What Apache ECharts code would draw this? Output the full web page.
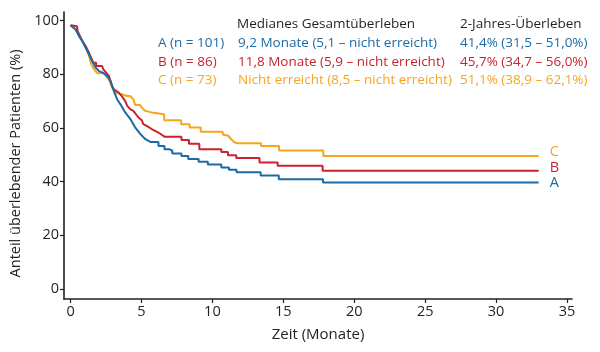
<!DOCTYPE html>
<html>
<head>
<meta charset="utf-8">
<script src="https://cdn.jsdelivr.net/npm/echarts@6/dist/echarts.min.js"></script>
<style>
  html, body { margin: 0; padding: 0; background: #fff; }
  #chart { width: 600px; height: 352px; }
</style>
</head>
<body>
<div id="chart"></div>
<script>
// Gruppen und Legendentexte
const groupNames = ['A', 'B', 'C'];
const groupN = [101, 86, 73];
const medianOS = [
  '9,2 Monate (5,1 – nicht erreicht)',
  '11,8 Monate (5,9 – nicht erreicht)',
  'Nicht erreicht (8,5 – nicht erreicht)'
];
const twoYearOS = [
  '41,4% (31,5 – 51,0%)',
  '45,7% (34,7 – 56,0%)',
  '51,1% (38,9 – 62,1%)'
];
const xTicks = [0, 5, 10, 15, 20, 25, 30, 35];
const yTicks = [0, 20, 40, 60, 80, 100];

// Kaplan-Meier-Kurven (Monate, % überlebend)
const aTime = [0, 0.36, 0.6, 0.83, 1.07, 1.3, 1.53, 1.77, 2.0, 2.35, 2.58, 2.82, 3.05, 3.28, 3.52, 3.87, 4.22, 4.57, 4.93, 5.28, 5.63, 6.2, 6.2, 6.62, 6.62, 6.95, 6.95, 7.17, 7.17, 7.82, 7.82, 8.3, 8.3, 9.03, 9.03, 9.68, 9.68, 10.63, 10.63, 11.17, 11.17, 11.7, 11.7, 13.4, 13.4, 14.68, 14.68, 17.8, 17.8, 33.0];
const aSurv = [98.3, 96.7, 94.2, 92.4, 89.9, 87.4, 84.9, 82.5, 81.2, 80.4, 79.4, 77.5, 73.8, 70.7, 68.8, 65.7, 63.3, 60.1, 57.7, 55.8, 54.8, 54.8, 53.3, 53.3, 52.1, 52.1, 51.6, 51.6, 50.5, 50.5, 49.6, 49.6, 48.4, 48.4, 47.4, 47.4, 46.4, 46.4, 45.3, 45.3, 44.4, 44.4, 43.5, 43.5, 42.3, 42.3, 40.9, 40.9, 39.7, 39.7];

const bTime = [0, 0.45, 0.5, 0.83, 1.07, 1.3, 1.6, 1.81, 1.81, 2.23, 2.3, 2.7, 2.93, 3.05, 3.4, 3.64, 3.87, 4.0, 4.2, 4.43, 4.79, 5.02, 5.13, 5.37, 5.49, 5.72, 5.84, 6.19, 6.3, 6.65, 7.82, 7.82, 8.35, 8.35, 9.08, 9.08, 10.63, 10.63, 11.1, 11.1, 11.68, 11.68, 13.32, 13.32, 14.6, 14.6, 17.77, 17.77, 33.0];
const bSurv = [98.3, 97.9, 96.1, 92.4, 90.5, 88.0, 84.3, 84.3, 83.1, 83.1, 81.9, 79.4, 75.7, 74.4, 73.2, 71.7, 69.8, 68.2, 67.0, 66.4, 63.9, 62.9, 61.4, 60.8, 60.1, 59.6, 58.9, 58.3, 57.7, 56.7, 56.7, 55.5, 55.5, 54.1, 54.1, 52.1, 52.1, 51.0, 51.0, 49.8, 49.8, 48.8, 48.8, 47.1, 47.1, 45.9, 45.9, 44.1, 44.1];

const cTime = [0, 0.36, 0.6, 0.83, 1.07, 1.3, 1.42, 1.65, 1.88, 2.23, 2.4, 2.7, 2.93, 3.05, 3.26, 3.73, 3.96, 4.2, 4.43, 4.55, 4.9, 5.02, 5.25, 5.72, 5.84, 6.6, 6.6, 7.8, 7.8, 8.4, 8.4, 9.18, 9.18, 10.72, 10.75, 11.1, 11.33, 11.57, 11.8, 13.43, 13.43, 14.7, 14.7, 17.82, 17.82, 33.0];
const cSurv = [98.3, 96.7, 94.2, 92.4, 89.9, 87.0, 84.3, 81.9, 80.4, 80.4, 80.0, 78.1, 75.0, 74.2, 73.0, 72.4, 71.9, 71.9, 70.7, 68.6, 68.6, 67.6, 66.4, 65.8, 65.1, 65.1, 62.9, 62.9, 61.4, 61.4, 60.2, 60.2, 58.6, 58.6, 57.5, 57.2, 55.8, 54.6, 54.3, 54.3, 53.3, 53.3, 51.6, 51.6, 49.6, 49.6];

const zip = (t, s) => t.map((v, i) => [v, s[i]]);
const curves = [zip(aTime, aSurv), zip(bTime, bSurv), zip(cTime, cSurv)];

const colors = ['#1b6aa6', '#c8232f', '#f6a51f'];
const ink = '#231f20';
const font = '"Open Sans", sans-serif';

const chart = echarts.init(document.getElementById('chart'));

// Legendentabelle oben rechts
const graphic = [
  { type: 'text', x: 237, y: 24, style: { text: 'Medianes Gesamtüberleben', fill: ink, font: '13.5px ' + font, textVerticalAlign: 'middle' } },
  { type: 'text', x: 460, y: 24, style: { text: '2-Jahres-Überleben', fill: ink, font: '13.5px ' + font, textVerticalAlign: 'middle' } }
];
groupNames.forEach((g, i) => {
  const y = 43.5 + i * 18.3;
  graphic.push(
    { type: 'text', x: 158, y: y, style: { text: g + ' (n = ' + groupN[i] + ')', fill: colors[i], font: '13.5px ' + font, textVerticalAlign: 'middle' } },
    { type: 'text', x: 238, y: y, style: { text: medianOS[i], fill: colors[i], font: '13.5px ' + font, textVerticalAlign: 'middle' } },
    { type: 'text', x: 460, y: y, style: { text: twoYearOS[i], fill: colors[i], font: '13.5px ' + font, textVerticalAlign: 'middle' } }
  );
});

const endOffsets = [[0, 0], [0, -3], [0, -4]];
// C zuerst, A zuletzt (oben)
const series = [2, 1, 0].map(i => ({
  name: groupNames[i],
  type: 'line',
  data: curves[i],
  symbol: 'none',
  silent: true,
  lineStyle: { color: colors[i], width: 2 },
  endLabel: {
    show: true,
    formatter: groupNames[i],
    color: colors[i],
    fontSize: 14.5,
    fontFamily: font,
    distance: 11,
    offset: endOffsets[i]
  }
}));

chart.setOption({
  animation: false,
  backgroundColor: '#fff',
  grid: { left: 62, right: 28, top: 12, bottom: 53, containLabel: false },
  xAxis: {
    type: 'value',
    min: -0.46,
    max: 35.35,
    name: 'Zeit (Monate)',
    nameLocation: 'middle',
    nameGap: 28,
    nameTextStyle: { color: ink, fontSize: 15, fontFamily: font },
    axisLine: { show: true, onZero: false, lineStyle: { color: ink, width: 1.6 } },
    axisTick: { show: true, length: 4, customValues: xTicks, lineStyle: { color: ink, width: 1.2 } },
    axisLabel: { customValues: xTicks, color: ink, fontSize: 14.5, fontFamily: font, margin: 5 },
    splitLine: { show: false }
  },
  yAxis: {
    type: 'value',
    min: -3.72,
    max: 103.2,
    name: 'Anteil überlebender Patienten (%)',
    nameLocation: 'middle',
    nameGap: 41,
    nameTextStyle: { color: ink, fontSize: 14.5, fontFamily: font, padding: [0, 16, 0, 0] },
    axisLine: { show: true, onZero: false, lineStyle: { color: ink, width: 1.6 } },
    axisTick: { show: true, length: 4, customValues: yTicks, lineStyle: { color: ink, width: 1.2 } },
    axisLabel: { customValues: yTicks, color: ink, fontSize: 14.5, fontFamily: font, margin: 5 },
    splitLine: { show: false }
  },
  graphic: graphic,
  series: series
});
</script>
</body>
</html>
